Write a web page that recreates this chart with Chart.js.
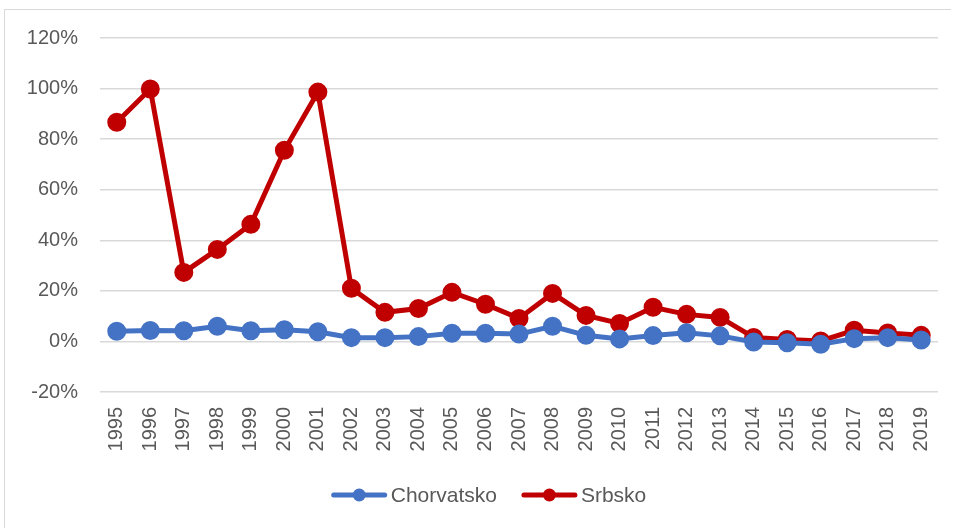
<!DOCTYPE html>
<html>
<head>
<meta charset="utf-8">
<script src="https://cdn.jsdelivr.net/npm/chart.js@4"></script>
<style>
  body { margin: 0; background: #fff; }
  #wrap { position: absolute; left: 4px; top: 9px; width: 946px; height: 518px; border: 1px solid #d9d9d9; border-right: none; border-bottom: none; }
</style>
</head>
<body>
<div id="wrap"><canvas id="chart"></canvas></div>
<script>
var years = ['1995','1996','1997','1998','1999','2000','2001','2002','2003','2004','2005','2006','2007','2008','2009','2010','2011','2012','2013','2014','2015','2016','2017','2018','2019'];
var chorvatsko = [4.0, 4.3, 4.2, 6.0, 4.2, 4.6, 3.8, 1.5, 1.5, 1.9, 3.2, 3.2, 2.9, 6.0, 2.4, 1.0, 2.3, 3.4, 2.2, -0.2, -0.5, -1.1, 1.1, 1.5, 0.6];
var srbsko = [86.7, 99.8, 27.3, 36.4, 46.3, 75.6, 98.6, 21.0, 11.5, 13.0, 19.4, 14.7, 9.1, 19.0, 10.3, 7.1, 13.5, 10.7, 9.5, 1.6, 0.8, 0.2, 4.4, 3.3, 2.4];

var font = "'Liberation Sans', Arial, sans-serif";

// Excel-like legend: a line with a dot, then the name
var excelLegend = {
  id: 'excelLegend',
  afterDraw: function(chart) {
    var c = chart.ctx;
    var lineW = 55, gapText = 4, gapItem = 25;
    c.save();
    c.font = '21px ' + font;
    c.textBaseline = 'middle';
    var items = chart.data.datasets.map(function(ds) {
      return { ds: ds, w: c.measureText(ds.label).width };
    });
    var total = 0;
    items.forEach(function(it, i) { total += lineW + gapText + it.w + (i ? gapItem : 0); });
    var x = chart.width / 2 + 11 - total / 2;
    var y = chart.height - 33;
    items.forEach(function(it) {
      c.strokeStyle = it.ds.borderColor;
      c.fillStyle = it.ds.borderColor;
      c.lineWidth = 5;
      c.lineCap = 'round';
      c.beginPath();
      c.moveTo(x + 2, y);
      c.lineTo(x + lineW - 2, y);
      c.stroke();
      c.beginPath();
      c.arc(x + lineW / 2, y, 6.5, 0, Math.PI * 2);
      c.fill();
      c.fillStyle = '#595959';
      c.fillText(it.ds.label, x + lineW + gapText, y + 1);
      x += lineW + gapText + it.w + gapItem;
    });
    c.restore();
  }
};

new Chart(document.getElementById('chart'), {
  type: 'line',
  data: {
    labels: years,
    datasets: [{
      label: 'Chorvatsko',
      data: chorvatsko,
      borderColor: '#4472C4',
      backgroundColor: '#4472C4',
      borderWidth: 5,
      pointRadius: 7,
      pointHoverRadius: 7,
      tension: 0
    }, {
      label: 'Srbsko',
      data: srbsko,
      borderColor: '#C00000',
      backgroundColor: '#C00000',
      borderWidth: 5,
      pointRadius: 7,
      pointHoverRadius: 7,
      tension: 0
    }]
  },
  options: {
    responsive: true,
    maintainAspectRatio: false,
    animation: false,
    layout: { padding: { left: 20, right: 13, top: 28, bottom: 66 } },
    scales: {
      x: {
        offset: true,
        grid: { display: false },
        border: { display: false },
        ticks: {
          color: '#595959',
          font: { family: font, size: 20 },
          minRotation: 90,
          maxRotation: 90,
          padding: 7,
          autoSkip: false
        },
        afterFit: function(s) { s.height = 70; s.paddingLeft = 0; s.paddingRight = 0; }
      },
      y: {
        min: -20,
        max: 120,
        grid: { color: '#d9d9d9', lineWidth: 1.5, drawTicks: false },
        border: { display: false },
        ticks: {
          stepSize: 20,
          color: '#595959',
          font: { family: font, size: 20 },
          padding: 22,
          callback: function(v) { return v + '%'; }
        },
        afterFit: function(s) { s.width = 75; s.paddingTop = 0; s.paddingBottom = 0; }
      }
    },
    plugins: {
      legend: { display: false },
      tooltip: { enabled: false }
    }
  },
  plugins: [excelLegend]
});
</script>
</body>
</html>
